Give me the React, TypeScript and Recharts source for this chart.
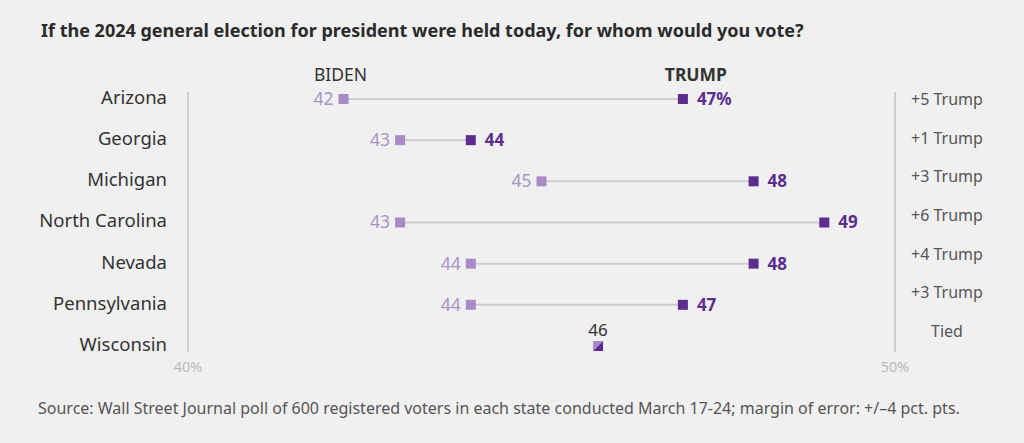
import { ScatterChart, Scatter, XAxis, YAxis } from "recharts";

const states = [
  "Arizona",
  "Georgia",
  "Michigan",
  "North Carolina",
  "Nevada",
  "Pennsylvania",
  "Wisconsin",
];
const biden = [42.2, 43.0, 45.0, 43.0, 44.0, 44.0, 45.8];
const trump = [47.0, 44.0, 48.0, 49.0, 48.0, 47.0, 45.8];
const bidenLabels = ["42", "43", "45", "43", "44", "44", ""];
const trumpLabels = ["47%", "44", "48", "49", "48", "47", ""];
const margins = ["+5 Trump", "+1 Trump", "+3 Trump", "+6 Trump", "+4 Trump", "+3 Trump", "Tied"];
const tiedLabel = "46";
const xTicks = [40, 50];

const LIGHT = "#a88bc6";
const DARK = "#5c2d8f";
const FONT = "'Noto Sans', sans-serif";

const rows = states.map((s, i) => ({ i, state: s, biden: biden[i], trump: trump[i] }));
const bidenPts = rows.map((r) => ({ x: r.biden, y: r.i }));
const trumpPts = rows.map((r) => ({ x: r.trump, y: r.i }));
const marginPts = margins.map((_, i) => ({ x: 50, y: i }));

const BidenDot = (props: any) => {
  const { cx, cy, index } = props;
  const tied = biden[index] === trump[index];
  if (tied) {
    return (
      <g>
        <polygon points={`${cx - 5},${cy - 5} ${cx + 5},${cy - 5} ${cx - 5},${cy + 5}`} fill={LIGHT} />
        <polygon points={`${cx + 5},${cy - 5} ${cx + 5},${cy + 5} ${cx - 5},${cy + 5}`} fill={DARK} />
        <text x={cx} y={cy - 10} textAnchor="middle" fill="#333" fontSize={17}>
          {tiedLabel}
        </text>
      </g>
    );
  }
  return (
    <g>
      <rect x={cx - 5} y={cy - 5} width={10} height={10} fill={LIGHT} />
      <text x={cx - 10} y={cy + 6} textAnchor="end" fill="#a993c6" fontSize={17.5}>
        {bidenLabels[index]}
      </text>
      {index === 0 && (
        <text x={cx - 3} y={cy - 18} textAnchor="middle" fill="#333" fontSize={17.5}>
          BIDEN
        </text>
      )}
    </g>
  );
};

const TrumpDot = (props: any) => {
  const { cx, cy, index } = props;
  if (biden[index] === trump[index]) return <g />;
  return (
    <g>
      <rect x={cx - 5} y={cy - 5} width={10} height={10} fill={DARK} />
      <text x={cx + 14} y={cy + 6} textAnchor="start" fill={DARK} fontSize={17} fontWeight="bold">
        {trumpLabels[index]}
      </text>
      {index === 0 && (
        <text x={cx + 13} y={cy - 18} textAnchor="middle" fill="#333" fontSize={17.5} fontWeight="bold">
          TRUMP
        </text>
      )}
    </g>
  );
};

const LeftTick = (props: any) => {
  const { x, y, payload } = props;
  return (
    <text x={x} y={y + 5} textAnchor="end" fill="#333" fontSize={18.5}>
      {states[payload.value]}
    </text>
  );
};

const RightTick = (props: any) => {
  const { x, y, payload } = props;
  return (
    <text x={x} y={y + 6} textAnchor="middle" fill="#555" fontSize={16}>
      {margins[payload.value]}
    </text>
  );
};

// rows: 0 at y=99, 6 at y=346 inside the 92..352 plot
const yDomain = [-0.17, 6.146];
// margin notes are spaced tighter: 0 at y=99, 6 at y=331
const yDomainRight = [-0.181, 6.543];
const yTicks = states.map((_, i) => i);

export default function App() {
  return (
    <div
      style={{
        position: "absolute",
        left: 0,
        top: 0,
        width: 1024,
        height: 443,
        background: "#f0f0f0",
        fontFamily: FONT,
      }}
    >
      <div
        style={{
          position: "absolute",
          left: 41,
          top: 18,
          fontSize: 18,
          fontWeight: "bold",
          color: "#2b2b2b",
        }}
      >
        If the 2024 general election for president were held today, for whom would you vote?
      </div>
      <ScatterChart
        width={1024}
        height={443}
        margin={{ top: 92, right: 0, bottom: 61, left: 0 }}
        style={{ position: "absolute", left: 0, top: 0 }}
      >
        <XAxis
          type="number"
          dataKey="x"
          domain={[40, 50]}
          ticks={xTicks}
          axisLine={false}
          tickLine={false}
          tickMargin={4}
          height={30}
          tick={{ fill: "#bbb", fontSize: 14.5 }}
          tickFormatter={(v) => `${v}%`}
        />
        <YAxis
          yAxisId="left"
          type="number"
          dataKey="y"
          domain={yDomain}
          ticks={yTicks}
          reversed
          width={188}
          tickSize={0}
          tickMargin={21}
          axisLine={{ stroke: "#cfcfcf", strokeWidth: 2 }}
          tickLine={false}
          tick={<LeftTick />}
        />
        <YAxis
          yAxisId="right"
          orientation="right"
          type="number"
          dataKey="y"
          domain={yDomainRight}
          ticks={yTicks}
          reversed
          width={129}
          tickSize={0}
          tickMargin={52}
          axisLine={{ stroke: "#cfcfcf", strokeWidth: 2 }}
          tickLine={false}
          tick={<RightTick />}
        />
        {rows.map((r) => (
          <Scatter
            key={r.state}
            yAxisId="left"
            data={[
              { x: r.biden, y: r.i },
              { x: r.trump, y: r.i },
            ]}
            line={{ stroke: "#cdcdcd", strokeWidth: 2 }}
            shape={() => <g />}
            isAnimationActive={false}
          />
        ))}
        <Scatter yAxisId="right" data={marginPts} shape={() => <g />} isAnimationActive={false} />
        <Scatter yAxisId="left" data={trumpPts} shape={<TrumpDot />} isAnimationActive={false} />
        <Scatter yAxisId="left" data={bidenPts} shape={<BidenDot />} isAnimationActive={false} />
      </ScatterChart>
      <div
        style={{
          position: "absolute",
          left: 38,
          top: 397,
          fontSize: 16,
          color: "#555",
        }}
      >
        Source: Wall Street Journal poll of 600 registered voters in each state conducted March 17-24; margin of error: +/–4 pct. pts.
      </div>
    </div>
  );
}
